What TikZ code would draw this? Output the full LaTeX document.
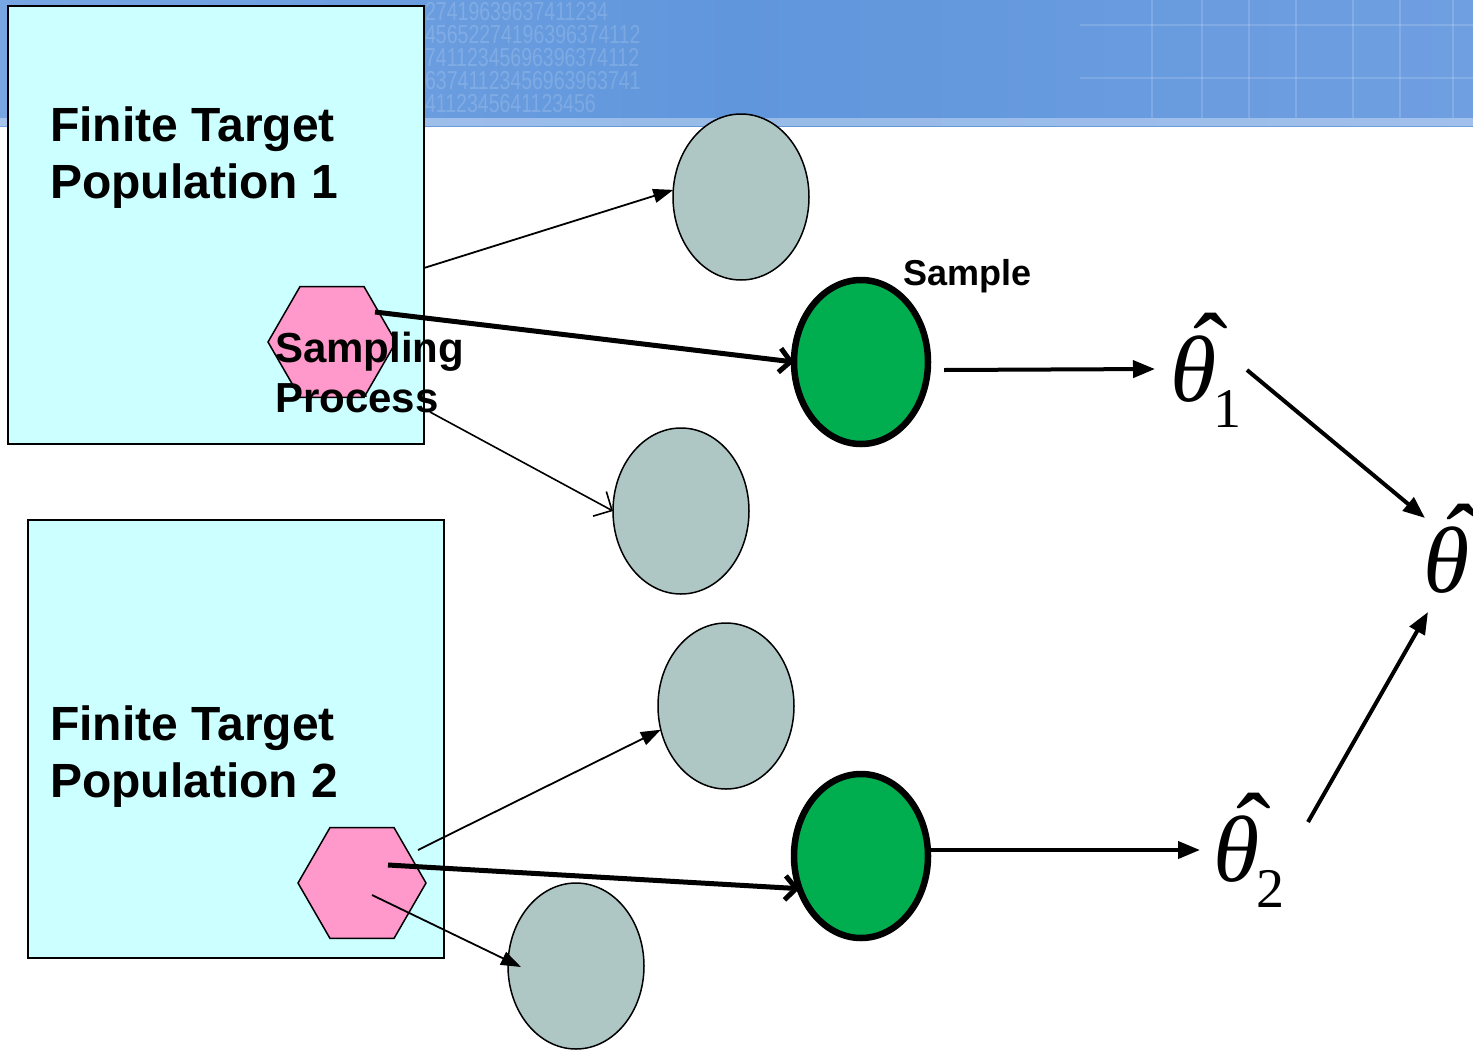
\documentclass[tikz,border=0pt]{standalone}
\usepackage{fontspec}
\setmainfont{Liberation Sans}
\newfontfamily\tms{Liberation Serif}
\usetikzlibrary{shapes.geometric,arrows.meta,calc}
\definecolor{boxcyan}{HTML}{CCFFFF}
\definecolor{hexpink}{HTML}{FF99CC}
\definecolor{sampgray}{HTML}{AEC7C5}
\definecolor{sampgreen}{HTML}{00AD4F}
\definecolor{banA}{HTML}{78A6E3}
\definecolor{banB}{HTML}{6096DC}
\definecolor{banC}{HTML}{6F9FE1}
\newcommand\thhat[1]{\tms\fontsize{94}{94}\selectfont\rlap{\hspace{0.25em}\raisebox{0.17em}{\fontsize{104}{104}\selectfont\char"02C6}}\textit{θ}\hspace{-0.03em}\raisebox{-0.28em}{\fontsize{56}{56}\selectfont #1}}
\begin{document}
\begin{tikzpicture}[x=1pt,y=-1pt,
  popbox/.style={draw=black,line width=2,fill=boxcyan,minimum width=416,minimum height=438,inner sep=0,outer sep=0},
  hexa/.style={regular polygon,regular polygon sides=6,minimum size=128,inner sep=0,outer sep=0,draw=black,line width=1.5,fill=hexpink},
  grayell/.style={ellipse,minimum width=136,minimum height=166,inner sep=0,outer sep=0,draw=black,line width=1.5,fill=sampgray},
  greenell/.style={ellipse,minimum width=134,minimum height=164,inner sep=0,outer sep=0,draw=black,line width=6.5,fill=sampgreen},
  bigtxt/.style={font=\fontsize{48}{57}\selectfont\bfseries,align=left,inner sep=0,anchor=north west},
  midtxt/.style={font=\fontsize{42}{50}\selectfont\bfseries,align=left,inner sep=0,anchor=north west},
  thin fill/.style={line width=1.8,-{Triangle[length=20,width=14]}},
  thin barb/.style={line width=1.6,-{Straight Barb[length=14,width=28]}},
  thick barb/.style={line width=5,-{Straight Barb[length=11,width=24]}},
  thick fill/.style={line width=4,-{Triangle[length=22,width=17]}},
  digits/.style={font=\fontsize{26}{26}\selectfont,text=white,opacity=0.16,anchor=west,inner sep=0,xscale=0.75},
]
\useasboundingbox (0,0) rectangle (1473,1050);
% banner
\shade[left color=banA,right color=banC,middle color=banB] (0,0) rectangle (1473,126);
\fill[white,opacity=0.35] (0,118) rectangle (1473,126);
\foreach \xx in {1152,1202,1249,1296,1353,1400,1453}{
  \draw[white,opacity=0.15,line width=1.5] (\xx,0) -- (\xx,118);}
\foreach \yy in {25,78}{
  \draw[white,opacity=0.15,line width=1.5] (1080,\yy) -- (1473,\yy);}
\node[digits] (d1) at (425,12) {27419639637411234};
\node[digits] (d2) at (425,35) {45652274196396374112};
\node[digits] (d3) at (425,58) {74112345696396374112};
\node[digits] (d4) at (425,81) {63741123456963963741};
\node[digits] (d5) at (425,104) {4112345641123456};

% population boxes
\node[popbox] (p1) at (216,225) {};
\node[popbox] (p2) at (236,739) {};
\node[bigtxt] (l1) at (50,107) {Finite Target\\Population 1};
\node[bigtxt] (l2) at (50,706) {Finite Target\\Population 2};

% hexagons
\node[hexa] (h1) at (332,342) {};
\node[hexa] (h2) at (362,883) {};

% samples
\node[grayell] (g1) at (741,197) {};
\node[greenell] (gr1) at (861,362) {};
\node[grayell] (g2) at (681,511) {};
\node[grayell] (g3) at (726,706) {};
\node[greenell] (gr2) at (861,856) {};
\node[grayell] (g4) at (576,966) {};

% estimators
\node[inner sep=0,anchor=base west] (t1) at (1170,401) {\thhat{1}};
\node[inner sep=0,anchor=base west] (t2) at (1213,881) {\thhat{2}};
\node[inner sep=0,anchor=base west] (t) at (1423,592) {\thhat{}};

% connectors
\draw[thin fill] ($(p1.east)+(0,43)$) -- (g1.174);
\draw[thick barb] ($(h1.center)+(43,-30)$) -- (gr1.west);
\draw[thin barb] ($(h1.center)+(98,70)$) -- (g2.180);
\draw[thin fill] ($(h2.center)+(56,-33)$) -- (g3.200);
\draw[thick barb] ($(h2.center)+(26,-18)$) -- (gr2.208);
\draw[thin fill] ($(h2.center)+(10,12)$) -- ($(g4.west)+(13,1)$);
\draw[thick fill] ($(gr1.center)+(83,8)$) -- ($(t1.base west)+(-15,-32)$);
\draw[thick fill] ($(gr2.center)+(69,-6)$) -- ($(t2.base west)+(-13,-31)$);
\draw[thick fill] ($(t1.base west)+(77,-31)$) -- ($(t.base west)+(2,-74)$);
\draw[thick fill] ($(t2.base west)+(95,-59)$) -- ($(t.base west)+(5,20)$);

% texts on top
\node[midtxt] (sp) at (275,332) {Sampling\\Process};
\node[font=\fontsize{36}{36}\selectfont\bfseries,inner sep=0,anchor=base west] (smp) at (903,285) {Sample};
\end{tikzpicture}
\end{document}
